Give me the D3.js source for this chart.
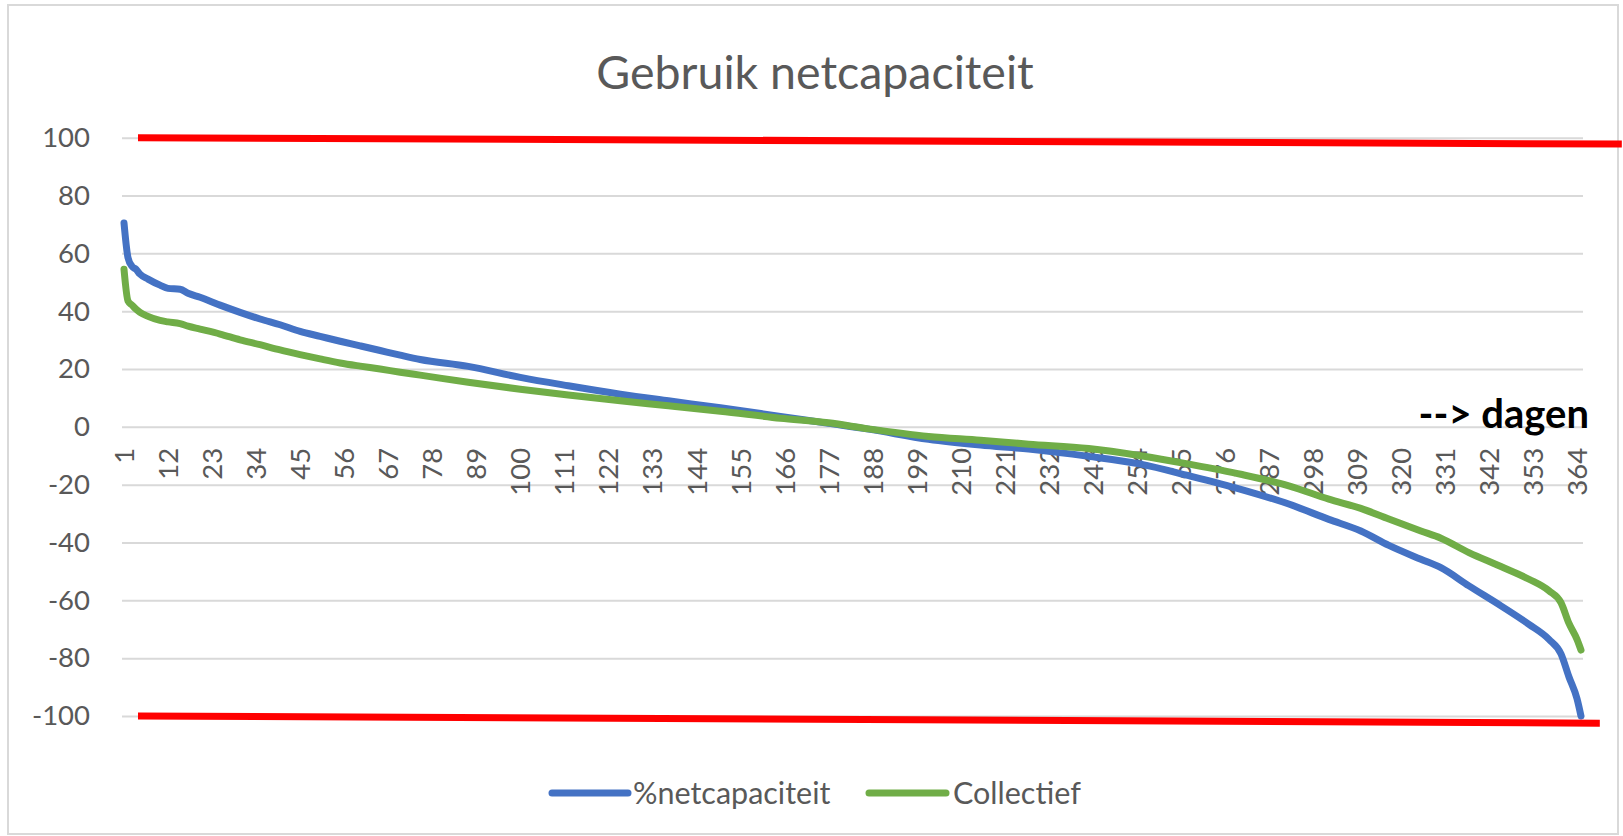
<!DOCTYPE html>
<html>
<head>
<meta charset="utf-8">
<script src="https://cdn.jsdelivr.net/npm/d3@7"></script>
<style>
  html, body { margin: 0; padding: 0; background: #fff; }
  svg { display: block; }
  text { font-family: Lato, "Noto Sans", sans-serif; }
</style>
</head>
<body>
<svg id="chart" width="1623" height="836"></svg>
<script>
// ---- data ----
const days = [1,2,3,4,5,7,10,12,15,17,20,25,30,35,40,45,50,55,60,65,70,75,87,100,112,125,137,150,165,177,187,202,215,227,242,255,267,280,292,302,310,317,325,330,337,345,352,357,360,362,364,365];
const netcapaciteit = [70.5,58.5,55.5,54.5,52.8,51.1,49.0,47.9,47.6,46.2,44.8,42.1,39.6,37.3,35.3,33.0,31.3,29.6,28.0,26.4,24.8,23.3,20.9,17.1,14.2,11.3,9.0,6.6,3.6,1.2,-0.8,-4.3,-6.3,-7.7,-10.2,-12.9,-16.9,-21.6,-26.7,-32.0,-36.0,-41.0,-45.8,-48.7,-55.0,-61.9,-68.3,-73.5,-78.5,-86.5,-94.0,-100];
const collectief = [54.5,43.5,42.1,40.7,39.6,38.2,36.8,36.3,35.7,34.8,33.8,32.1,30.1,28.4,26.6,25.0,23.5,22.1,21.0,20.0,18.9,17.9,15.4,13.0,11.0,9.0,7.3,5.4,3.0,1.4,-0.7,-3.3,-4.6,-6.0,-7.5,-10.0,-12.9,-16.4,-20.4,-25.0,-28.2,-31.9,-36.0,-38.5,-43.5,-48.3,-52.7,-56.7,-60.8,-68.0,-73.5,-77.2];
const dayCount = 365;
const xTickLabels = [1,12,23,34,45,56,67,78,89,100,111,122,133,144,155,166,177,188,199,210,221,232,243,254,265,276,287,298,309,320,331,342,353,364];
const yTicks = [-100,-80,-60,-40,-20,0,20,40,60,80,100];
// hand-drawn capacity limit lines (day, value) at start and end
const upperLimitDays = [4.5, 375.2];
const upperLimitValues = [100, 97.8];
const lowerLimitDays = [4.5, 369.7];
const lowerLimitValues = [-100, -102.5];
const seriesNames = ["%netcapaciteit", "Collectief"];
const seriesColors = ["#4472C4", "#70AD47"];

// ---- drawing ----
const svg = d3.select("#chart");
const plotLeft = 122, plotRight = 1583, plotTop = 137.7, plotBottom = 716;

const x = d3.scaleLinear().domain([0.5, dayCount + 0.5]).range([plotLeft, plotRight]);
const y = d3.scaleLinear().domain([-100, 100]).range([plotBottom, plotTop]);

// chart border
svg.append("rect")
  .attr("x", 8).attr("y", 5).attr("width", 1610).attr("height", 829)
  .attr("fill", "#fff").attr("stroke", "#d9d9d9").attr("stroke-width", 2);

// title
svg.append("text")
  .attr("x", 815).attr("y", 89)
  .attr("text-anchor", "middle")
  .attr("fill", "#595959")
  .style("font-size", "46.5px")
  .text("Gebruik netcapaciteit");

// gridlines + y labels
const yAxis = d3.axisLeft(y).tickValues(yTicks).tickFormat(d => String(d))
  .tickSize(-(plotRight - plotLeft)).tickPadding(32);
const gy = svg.append("g").attr("transform", `translate(${plotLeft},0)`).call(yAxis);
gy.select(".domain").remove();
gy.selectAll(".tick line").attr("stroke", "#d9d9d9").attr("stroke-width", 2);
gy.selectAll(".tick text")
  .attr("fill", "#595959")
  .style("font-size", "27.5px")
  .style("font-family", "Lato, sans-serif");

// x labels along zero line
const xAxis = d3.axisBottom(x).tickValues(xTickLabels).tickFormat(d => String(d)).tickSize(0).tickPadding(0);
const gx = svg.append("g").attr("transform", `translate(0,${y(0)})`).call(xAxis);
gx.select(".domain").remove();
gx.selectAll(".tick text")
  .attr("fill", "#595959")
  .style("font-size", "27.5px")
  .style("font-family", "Lato, sans-serif")
  .attr("text-anchor", "end")
  .attr("transform", "translate(0,21) rotate(-90)")
  .attr("x", 0).attr("y", 0).attr("dy", "0.35em");

// series lines
const line = d3.line().x(d => x(d[0])).y(d => y(d[1]));
const smoothLine = d3.line().x(d => x(d[0])).y(d => y(d[1])).curve(d3.curveMonotoneX);
const seriesData = [netcapaciteit, collectief];
seriesData.forEach((vals, i) => {
  svg.append("path")
    .datum(days.map((d, j) => [d, vals[j]]))
    .attr("fill", "none")
    .attr("stroke", seriesColors[i])
    .attr("stroke-width", 7)
    .attr("stroke-linejoin", "round")
    .attr("stroke-linecap", "round")
    .attr("d", smoothLine);
});

// red limit lines
[[upperLimitDays, upperLimitValues], [lowerLimitDays, lowerLimitValues]].forEach(([ds, vs]) => {
  svg.append("path")
    .datum(ds.map((d, j) => [d, vs[j]]))
    .attr("fill", "none")
    .attr("stroke", "#FF0000")
    .attr("stroke-width", 7)
    .attr("d", line);
});

// "--> dagen" annotation
svg.append("text")
  .attr("x", 1589).attr("y", 428)
  .attr("text-anchor", "end")
  .attr("fill", "#000")
  .style("font-size", "40px")
  .style("font-weight", "bold")
  .text("--> dagen");

// legend
const legendItems = [
  { name: seriesNames[0], color: seriesColors[0], x1: 552, x2: 628, tx: 633 },
  { name: seriesNames[1], color: seriesColors[1], x1: 869, x2: 946, tx: 953 }
];
const lg = svg.append("g");
legendItems.forEach(it => {
  lg.append("line")
    .attr("x1", it.x1).attr("x2", it.x2).attr("y1", 793).attr("y2", 793)
    .attr("stroke", it.color).attr("stroke-width", 7).attr("stroke-linecap", "round");
  lg.append("text")
    .attr("x", it.tx).attr("y", 804)
    .attr("fill", "#595959")
    .style("font-size", "30.5px")
    .text(it.name);
});
</script>
</body>
</html>
